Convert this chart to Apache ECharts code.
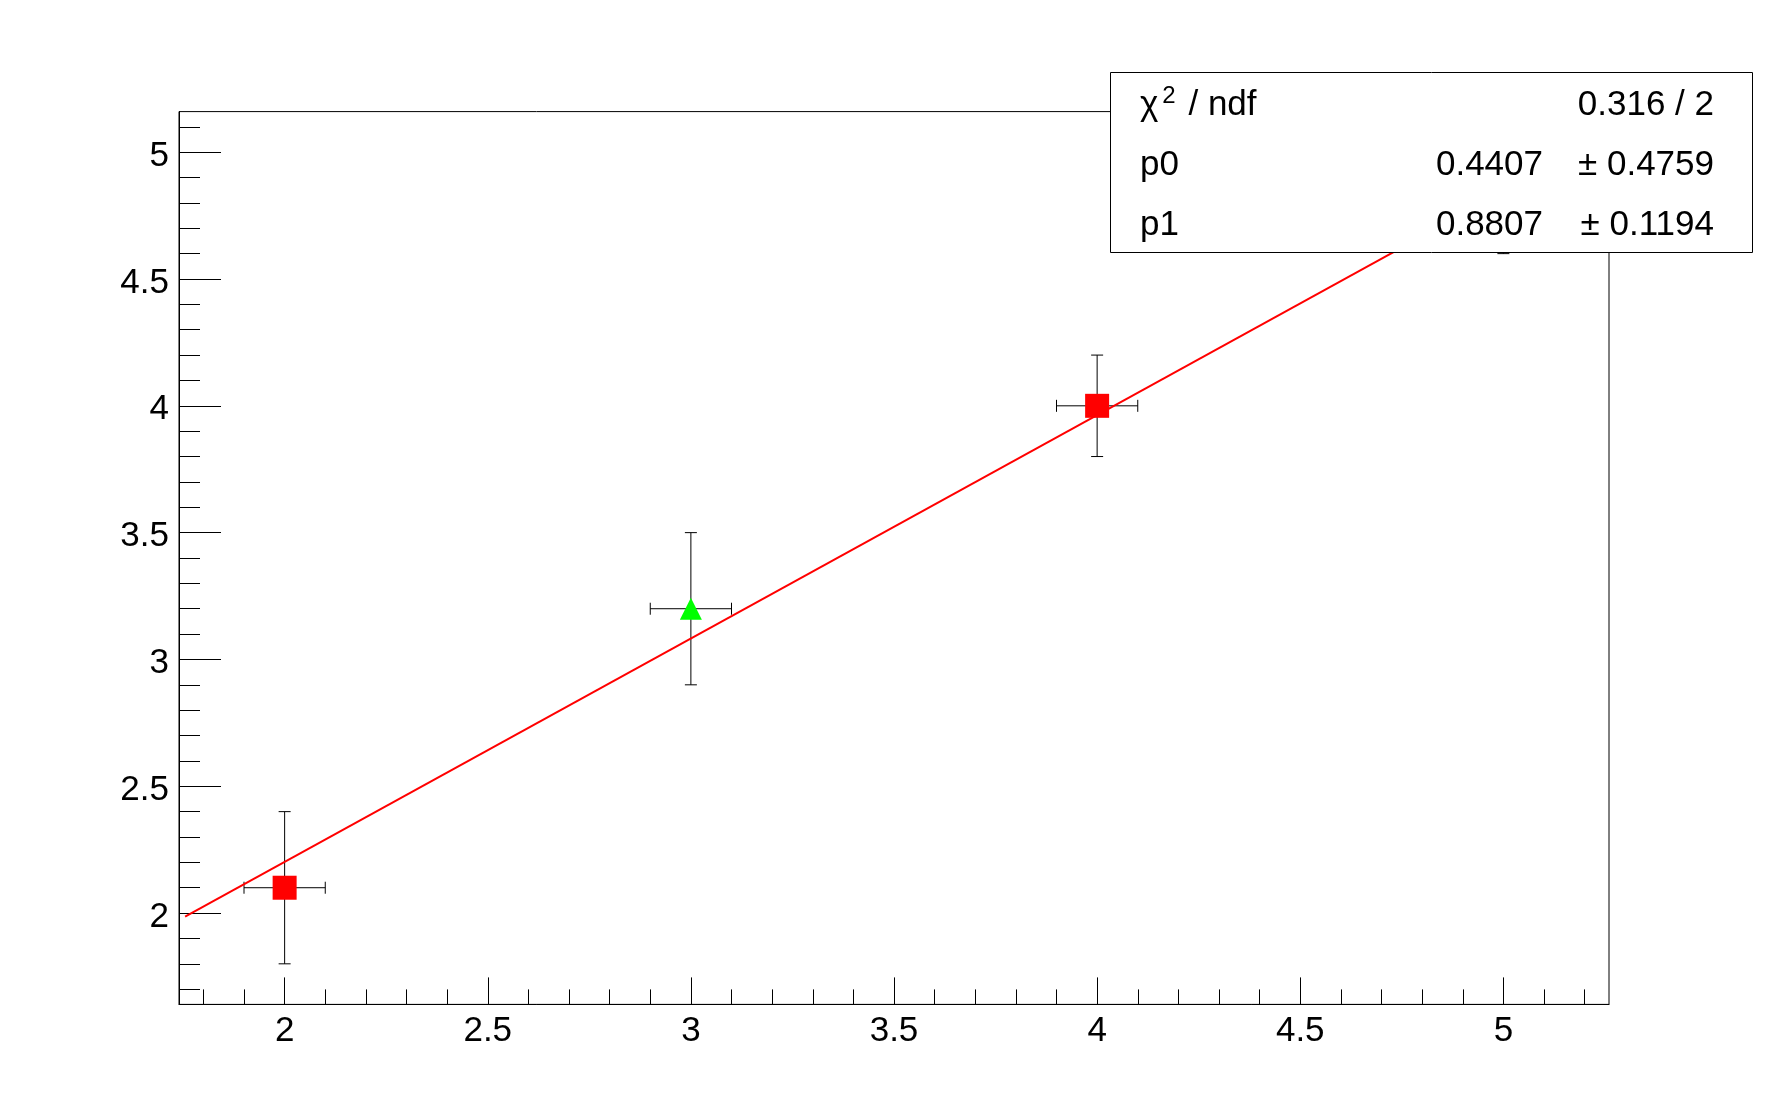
<!DOCTYPE html>
<html>
<head>
<meta charset="utf-8">
<script src="https://cdn.jsdelivr.net/npm/echarts@6/dist/echarts.min.js"></script>
<style>
html,body{margin:0;padding:0;background:#fff;}
#chart{width:1788px;height:1116px;}
</style>
</head>
<body>
<div id="chart"></div>
<script>
// ---- data ----
const pointX = [2, 3, 4, 5];
const pointY = [2.1, 3.2, 4.0, 4.8];
const errX = [0.1, 0.1, 0.1, 0.1];
const errY = [0.3, 0.3, 0.2, 0.2];
const fitX = [1.755, 5.26];
const fitY = [1.986, 5.073];
const xMajor = [2, 2.5, 3, 3.5, 4, 4.5, 5];
const xMinor = [1.8, 1.9, 2.1, 2.2, 2.3, 2.4, 2.6, 2.7, 2.8, 2.9, 3.1, 3.2, 3.3, 3.4, 3.6, 3.7, 3.8, 3.9, 4.1, 4.2, 4.3, 4.4, 4.6, 4.7, 4.8, 4.9, 5.1, 5.2];
const yMajor = [2, 2.5, 3, 3.5, 4, 4.5, 5];
const yMinor = [1.7, 1.8, 1.9, 2.1, 2.2, 2.3, 2.4, 2.6, 2.7, 2.8, 2.9, 3.1, 3.2, 3.3, 3.4, 3.6, 3.7, 3.8, 3.9, 4.1, 4.2, 4.3, 4.4, 4.6, 4.7, 4.8, 4.9, 5.1];
const statLabels = ['p0', 'p1'];
const statValues = ['0.4407', '0.8807'];
const statErrors = ['0.4759', '0.1194'];
const chi2Text = '0.316 / 2';

// ---- styles (not data) ----
const markerShape = ['rect', 'triangle', 'rect', 'rect'];
const markerColor = ['#ff0000', '#00ff00', '#ff0000', '#ff0000'];
const markerSize = [24, 22, 24, 24];

const FONT = '"Liberation Sans", Arial, Helvetica, sans-serif';
const X_MIN = 1.74, X_MAX = 5.26, Y_MIN = 1.64, Y_MAX = 5.16;
const SFONT = 35;

const chart = echarts.init(document.getElementById('chart'), null, {renderer: 'canvas'});

const errData = pointX.map((x, i) => [x, pointY[i], errX[i], errY[i]]);
const scatterData = pointX.map((x, i) => ({
  value: [x, pointY[i]],
  symbol: markerShape[i],
  symbolSize: markerSize[i],
  itemStyle: {color: markerColor[i], opacity: 1}
}));
const fitData = fitX.map((x, i) => [x, fitY[i]]);

function axisCommon() {
  return {
    type: 'value',
    splitLine: {show: false},
    axisLine: {show: true, onZero: false, lineStyle: {color: '#000', width: 1}}
  };
}

const option = {
  animation: false,
  backgroundColor: '#fff',
  grid: {left: 179, right: 179, top: 111.6, bottom: 111.6, show: true, borderColor: '#000', borderWidth: 1, backgroundColor: 'transparent', containLabel: false},
  xAxis: [
    Object.assign(axisCommon(), {
      min: X_MIN, max: X_MAX, position: 'bottom',
      axisTick: {show: true, inside: true, length: 27, customValues: xMajor, lineStyle: {color: '#000', width: 1}},
      axisLabel: {show: true, customValues: xMajor, color: '#000', fontSize: 35, fontFamily: FONT, margin: 9,
        formatter: v => String(v)}
    }),
    Object.assign(axisCommon(), {
      min: X_MIN, max: X_MAX, position: 'bottom', offset: 0,
      axisLine: {show: false, onZero: false},
      axisTick: {show: true, inside: true, length: 15, customValues: xMinor, lineStyle: {color: '#000', width: 1}},
      axisLabel: {show: false}
    })
  ],
  yAxis: [
    Object.assign(axisCommon(), {
      min: Y_MIN, max: Y_MAX, position: 'left',
      axisTick: {show: true, inside: true, length: 42, customValues: yMajor, lineStyle: {color: '#000', width: 1}},
      axisLabel: {show: true, customValues: yMajor, color: '#000', fontSize: 35, fontFamily: FONT, margin: 10,
        formatter: v => '{p| }\n{v|' + String(v) + '}',
        rich: {
          p: {fontSize: 2, lineHeight: 8},
          v: {fontSize: 35, lineHeight: 40, fontFamily: FONT, color: '#000'}
        }
      }
    }),
    Object.assign(axisCommon(), {
      min: Y_MIN, max: Y_MAX, position: 'left', offset: 0,
      axisLine: {show: false, onZero: false},
      axisTick: {show: true, inside: true, length: 21, customValues: yMinor, lineStyle: {color: '#000', width: 1}},
      axisLabel: {show: false}
    })
  ],
  series: [
    {
      type: 'custom',
      xAxisIndex: 0, yAxisIndex: 0,
      data: errData,
      z: 3,
      renderItem: function (params, api) {
        const x = api.value(0), y = api.value(1), ex = api.value(2), ey = api.value(3);
        const L = api.coord([x - ex, y]);
        const R = api.coord([x + ex, y]);
        const T = api.coord([x, y + ey]);
        const B = api.coord([x, y - ey]);
        const c = 6;
        const st = {stroke: '#000', lineWidth: 1, fill: null};
        const line = (x1, y1, x2, y2) => ({type: 'line', shape: {x1, y1, x2, y2}, style: st});
        return {
          type: 'group',
          children: [
            line(L[0], L[1], R[0], R[1]),
            line(L[0], L[1] - c, L[0], L[1] + c),
            line(R[0], R[1] - c, R[0], R[1] + c),
            line(T[0], T[1], B[0], B[1]),
            line(T[0] - c, T[1], T[0] + c, T[1]),
            line(B[0] - c, B[1], B[0] + c, B[1])
          ]
        };
      }
    },
    {
      type: 'line',
      xAxisIndex: 0, yAxisIndex: 0,
      data: fitData,
      showSymbol: false,
      symbol: 'none',
      z: 4,
      lineStyle: {color: '#ff0000', width: 2},
      clip: true
    },
    {
      type: 'scatter',
      xAxisIndex: 0, yAxisIndex: 0,
      data: scatterData,
      z: 5
    }
  ],
  graphic: [
    {
      type: 'rect', z: 100,
      shape: {x: 1110.5, y: 72.5, width: 642, height: 180},
      style: {fill: '#fff', stroke: '#000', lineWidth: 1}
    },
    {
      type: 'text', z: 101, x: 1140, y: 105,
      style: {
        text: '{a|χ}{s|2}{a| / ndf}',
        verticalAlign: 'middle', align: 'left',
        rich: {
          a: {fontSize: SFONT, fontFamily: FONT, fill: '#000'},
          s: {fontSize: 24, fontFamily: FONT, fill: '#000', padding: [0, 3, 18, 4]}
        }
      }
    },
    {
      type: 'text', z: 101, x: 1714, y: 105,
      style: {text: chi2Text, fontSize: SFONT, fontFamily: FONT, fill: '#000', align: 'right', verticalAlign: 'middle'}
    },
    ...statLabels.flatMap((lab, i) => [
      {type: 'text', z: 101, x: 1140, y: 165 + 60 * i,
        style: {text: lab, fontSize: SFONT, fontFamily: FONT, fill: '#000', align: 'left', verticalAlign: 'middle'}},
      {type: 'text', z: 101, x: 1543, y: 165 + 60 * i,
        style: {text: statValues[i], fontSize: SFONT, fontFamily: FONT, fill: '#000', align: 'right', verticalAlign: 'middle'}},
      {type: 'text', z: 101, x: 1714, y: 165 + 60 * i,
        style: {text: '± ' + statErrors[i], fontSize: SFONT, fontFamily: FONT, fill: '#000', align: 'right', verticalAlign: 'middle'}}
    ])
  ]
};

chart.setOption(option);
</script>
</body>
</html>
